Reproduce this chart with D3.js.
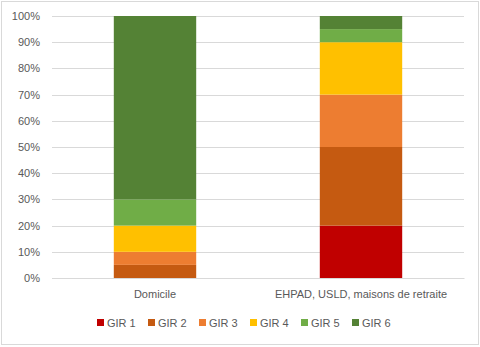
<!DOCTYPE html>
<html>
<head>
<meta charset="utf-8">
<script src="https://cdn.jsdelivr.net/npm/d3@7"></script>
<style>
  html, body { margin: 0; padding: 0; background: #fff; }
  svg { display: block; font-family: "Liberation Sans", Arial, sans-serif; }
</style>
</head>
<body>
<svg id="chart" width="480" height="347"></svg>
<script>
// Lieux de vie
const categories = ["Domicile", "EHPAD, USLD, maisons de retraite"];
// Séries GIR (part en %)
const series = ["GIR 1", "GIR 2", "GIR 3", "GIR 4", "GIR 5", "GIR 6"];
const gir1 = [0, 20];
const gir2 = [5, 30];
const gir3 = [5, 20];
const gir4 = [10, 20];
const gir5 = [10, 5];
const gir6 = [70, 5];
const colors = ["#c00000", "#c55a11", "#ed7d31", "#ffc000", "#70ad47", "#548235"];
const yTicks = [0, 10, 20, 30, 40, 50, 60, 70, 80, 90, 100];

const values = [gir1, gir2, gir3, gir4, gir5, gir6];
const rows = categories.map((c, i) => {
  const r = { cat: c };
  series.forEach((s, j) => r[s] = values[j][i]);
  return r;
});

const svg = d3.select("#chart");
const W = 480, H = 347;

// cadre
svg.append("rect").attr("x", 1.5).attr("y", 1.5).attr("width", W - 3).attr("height", H - 4)
  .attr("fill", "#fff").attr("stroke", "#d9d9d9").attr("stroke-width", 1);

const plotLeft = 52, plotRight = 464, plotTop = 16, plotBottom = 278;

const x = d3.scaleBand().domain(categories).range([plotLeft, plotRight]).padding(0);
const y = d3.scaleLinear().domain([0, 100]).range([plotBottom, plotTop]);

// grille
svg.append("g").selectAll("line").data(yTicks).join("line")
  .attr("x1", plotLeft).attr("x2", plotRight)
  .attr("y1", d => Math.round(y(d)) + 0.5).attr("y2", d => Math.round(y(d)) + 0.5)
  .attr("stroke", "#d9d9d9").attr("stroke-width", 1);

// axe Y
const yAxis = svg.append("g").attr("transform", `translate(${plotLeft},0)`)
  .call(d3.axisLeft(y).tickValues(yTicks).tickFormat(d => d + "%").tickSize(0).tickPadding(12));
yAxis.select(".domain").remove();
yAxis.selectAll("text").attr("fill", "#595959").attr("font-size", 11)
  .attr("font-family", "Liberation Sans, Arial, sans-serif");

// barres empilées
const stack = d3.stack().keys(series)(rows);
const barW = x.bandwidth() * 0.4;
svg.append("g").selectAll("g").data(stack).join("g")
  .attr("fill", (d, i) => colors[i])
  .selectAll("rect").data(d => d).join("rect")
  .attr("x", d => x(d.data.cat) + (x.bandwidth() - barW) / 2)
  .attr("width", barW)
  .attr("y", d => y(d[1]))
  .attr("height", d => y(d[0]) - y(d[1]));

// axe X
const xAxis = svg.append("g").attr("transform", `translate(0,${plotBottom})`)
  .call(d3.axisBottom(x).tickSize(0).tickPadding(12));
xAxis.select(".domain").attr("stroke", "#d9d9d9");
xAxis.selectAll("text").attr("fill", "#595959").attr("font-size", 11)
  .attr("font-family", "Liberation Sans, Arial, sans-serif");

// légende
const legend = svg.append("g").attr("transform", "translate(97,318)");
const item = legend.selectAll("g").data(series).join("g")
  .attr("transform", (d, i) => `translate(${i * 51},0)`);
item.append("rect").attr("width", 7).attr("height", 7).attr("y", 1)
  .attr("fill", (d, i) => colors[i]);
item.append("text").attr("x", 10).attr("y", 9)
  .attr("fill", "#595959").attr("font-size", 11).text(d => d);
</script>
</body>
</html>
